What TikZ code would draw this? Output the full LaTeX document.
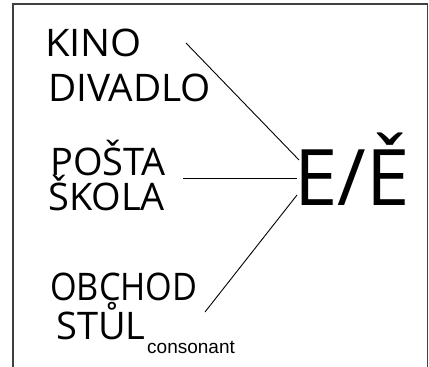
\documentclass[tikz,border=0pt]{standalone}
\usepackage{fontspec}
\usepackage{graphicx}
\setmainfont{Open Sans}
\newfontfamily\arialf{Liberation Sans}
\begin{document}
\begin{tikzpicture}[x=1pt,y=-1pt,
  word/.style={anchor=base west,inner sep=0pt,font=\fontsize{38}{42}\selectfont},
  link/.style={line width=0.9pt,black}]
\useasboundingbox (0,0) rectangle (429,367);
\draw[line width=1.6pt,black!75] (13,367) -- (13,4) -- (427.5,4) -- (427.5,367);
\node[word] (kino) at (45,56) {\scalebox{1.05}[1]{KINO}};
\node[word] (divadlo) at (48,101) {\scalebox{1.02}[1]{DIVADLO}};
\node[word] (posta) at (50,175) {POŠTA};
\node[word] (skola) at (48,210) {ŠKOLA};
\node[word] (obchod) at (50,300) {\scalebox{0.9}[1]{OBCHOD}};
\node[word] (stul) at (56,339) {STŮL};
\node[anchor=base west,inner sep=0pt,font=\arialf\fontsize{19}{22}\selectfont] (cons) at (147,353) {consonant};
\node[anchor=base west,inner sep=0pt,font=\fontsize{78}{80}\selectfont] (ee) at (294,205) {E/Ě};
\coordinate (a1) at (186,43);
\coordinate (a2) at (299,160);
\coordinate (b1) at (183,178);
\coordinate (b2) at (297,178);
\coordinate (c1) at (297,195);
\coordinate (c2) at (205,312);
\draw[link] (a1) -- (a2);
\draw[link] (b1) -- (b2);
\draw[link] (c1) -- (c2);
\end{tikzpicture}
\end{document}
